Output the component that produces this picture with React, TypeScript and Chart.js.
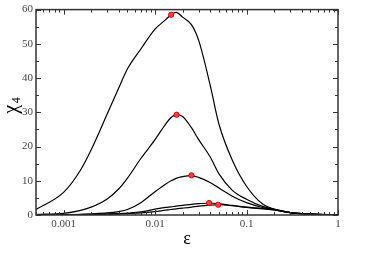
import React, { useEffect, useRef } from "react";
import { Chart, registerables } from "chart.js";

Chart.register(...registerables);

const xs = [0.0005, 0.001, 0.0015, 0.002, 0.003, 0.004, 0.005, 0.007, 0.01, 0.013, 0.015, 0.017, 0.02, 0.025, 0.03, 0.04, 0.05, 0.07, 0.1, 0.15, 0.2, 0.3, 0.5, 1];
const curve1 = [1.6, 6.6, 12.7, 19, 29.5, 37, 42.7, 48.5, 54.3, 57, 58.5, 59.2, 57.8, 55.6, 51, 38, 26.5, 16, 8.4, 3.2, 1.7, 0.7, 0.3, 0];
const curve2 = [0.15, 0.5, 1.3, 2.3, 4.7, 7.6, 10.8, 16.5, 22, 26.5, 28.5, 29.3, 28.8, 25.5, 22, 17, 12, 7.2, 4.6, 2.5, 1.7, 0.7, 0.25, 0];
const curve3 = [0.02, 0.1, 0.2, 0.35, 0.6, 1.0, 1.6, 3.6, 6.8, 9.0, 10.0, 10.7, 11.2, 11.5, 11.0, 9.5, 7.9, 5.5, 3.6, 2.2, 1.6, 0.7, 0.25, 0];
const curve4 = [0.01, 0.05, 0.1, 0.15, 0.3, 0.42, 0.55, 0.9, 1.7, 2.2, 2.4, 2.6, 2.8, 3.1, 3.3, 3.5, 3.3, 2.8, 2.3, 1.9, 1.5, 0.7, 0.25, 0];
const curve5 = [0.01, 0.03, 0.06, 0.1, 0.2, 0.3, 0.4, 0.6, 1.0, 1.4, 1.6, 1.8, 2.0, 2.3, 2.6, 2.9, 3.0, 2.7, 2.2, 1.8, 1.5, 0.7, 0.25, 0];
const peakX = [0.015, 0.0172, 0.025, 0.039, 0.049];
const peakY = [58.5, 29.3, 11.6, 3.5, 3.0];
const xTickValues = [0.0005, 0.0006, 0.0007, 0.0008, 0.0009, 0.001, 0.002, 0.003, 0.004, 0.005, 0.006, 0.007, 0.008, 0.009, 0.01, 0.02, 0.03, 0.04, 0.05, 0.06, 0.07, 0.08, 0.09, 0.1, 0.2, 0.3, 0.4, 0.5, 0.6, 0.7, 0.8, 0.9, 1];
const xTickLabels: Record<string, string> = { "0.001": "0.001", "0.01": "0.01", "0.1": "0.1", "1": "1" };

const FONT = "'Liberation Serif', 'DejaVu Serif', serif";

const framePlugin = {
  id: "frame",
  afterDatasetsDraw(chart: any) {
    const { ctx, chartArea: a, scales } = chart;
    const xs_ = scales.x;
    const ys_ = scales.y;
    ctx.save();
    ctx.strokeStyle = "#333";
    ctx.lineWidth = 1;
    ctx.beginPath();
    // x ticks (bottom & top, inward)
    for (const t of xs_.ticks) {
      const px = Math.round(xs_.getPixelForValue(t.value)) + 0.5;
      const len = t.major ? 5 : 3;
      ctx.moveTo(px, a.bottom);
      ctx.lineTo(px, a.bottom - len);
      ctx.moveTo(px, a.top);
      ctx.lineTo(px, a.top + len);
    }
    // y ticks
    for (let v = 0; v <= 60; v += 5) {
      const py = Math.round(ys_.getPixelForValue(v)) + 0.5;
      const len = v % 10 === 0 ? 5 : 3;
      ctx.moveTo(a.left, py);
      ctx.lineTo(a.left + len, py);
      ctx.moveTo(a.right, py);
      ctx.lineTo(a.right - len, py);
    }
    ctx.stroke();
    ctx.lineWidth = 1.5;
    ctx.strokeRect(a.left, a.top, a.right - a.left, a.bottom - a.top);
    // titles
    ctx.fillStyle = "#000";
    ctx.textAlign = "center";
    ctx.textBaseline = "middle";
    ctx.font = `18px ${FONT}`;
    ctx.fillText("ε", (a.left + a.right) / 2, a.bottom + 24);
    ctx.save();
    ctx.translate(12, (a.top + a.bottom) / 2 - 6);
    ctx.rotate(-Math.PI / 2);
    ctx.font = `20px ${FONT}`;
    ctx.textAlign = "center";
    ctx.fillText("χ", -3, 0);
    ctx.font = `12px ${FONT}`;
    ctx.fillText("4", 6, 5);
    ctx.restore();
    ctx.restore();
  },
};

export default function App() {
  const ref = useRef<HTMLCanvasElement>(null);
  useEffect(() => {
    document.body.style.margin = "0";
    const mk = (ys: number[]) => xs.map((x, i) => ({ x, y: ys[i] }));
    const lineDs = (ys: number[]) => ({
      data: mk(ys),
      showLine: true,
      borderColor: "#000",
      borderWidth: 1.2,
      pointRadius: 0,
      cubicInterpolationMode: "monotone" as const,
      fill: false,
    });
    const chart = new Chart(ref.current!, {
      type: "scatter",
      data: {
        datasets: [
          {
            data: peakX.map((x, i) => ({ x, y: peakY[i] })),
            showLine: false,
            pointRadius: 2.6,
            pointBackgroundColor: "#ff4040",
            pointBorderColor: "#e00000",
            pointBorderWidth: 1,
          } as any,
          lineDs(curve1),
          lineDs(curve2),
          lineDs(curve3),
          lineDs(curve4),
          lineDs(curve5),
        ],
      },
      options: {
        responsive: false,
        animation: false,
        layout: { padding: { top: 4, right: 44, left: 0, bottom: 0 } },
        plugins: { legend: { display: false }, tooltip: { enabled: false } },
        scales: {
          x: {
            type: "logarithmic",
            min: 0.0005,
            max: 1,
            grid: { display: false, drawTicks: false },
            border: { display: false },
            afterBuildTicks: (scale: any) => {
              scale.ticks = xTickValues.map((v) => ({ value: v, major: xTickLabels[String(v)] !== undefined }));
            },
            afterFit: (scale: any) => {
              scale.height = 46;
            },
            ticks: {
              autoSkip: false,
              maxRotation: 0,
              padding: 3,
              color: "#444",
              font: { family: FONT, size: 11 },
              callback: (v: any) => xTickLabels[String(v)] ?? "",
            },
          },
          y: {
            min: 0,
            max: 60,
            grid: { display: false, drawTicks: false },
            border: { display: false },
            afterFit: (scale: any) => {
              scale.width = 36;
            },
            ticks: {
              stepSize: 10,
              padding: 3,
              color: "#444",
              font: { family: FONT, size: 11 },
            },
          },
        },
      },
      plugins: [framePlugin],
    });
    return () => chart.destroy();
  }, []);
  return <canvas ref={ref} width={382} height={261} />;
}
